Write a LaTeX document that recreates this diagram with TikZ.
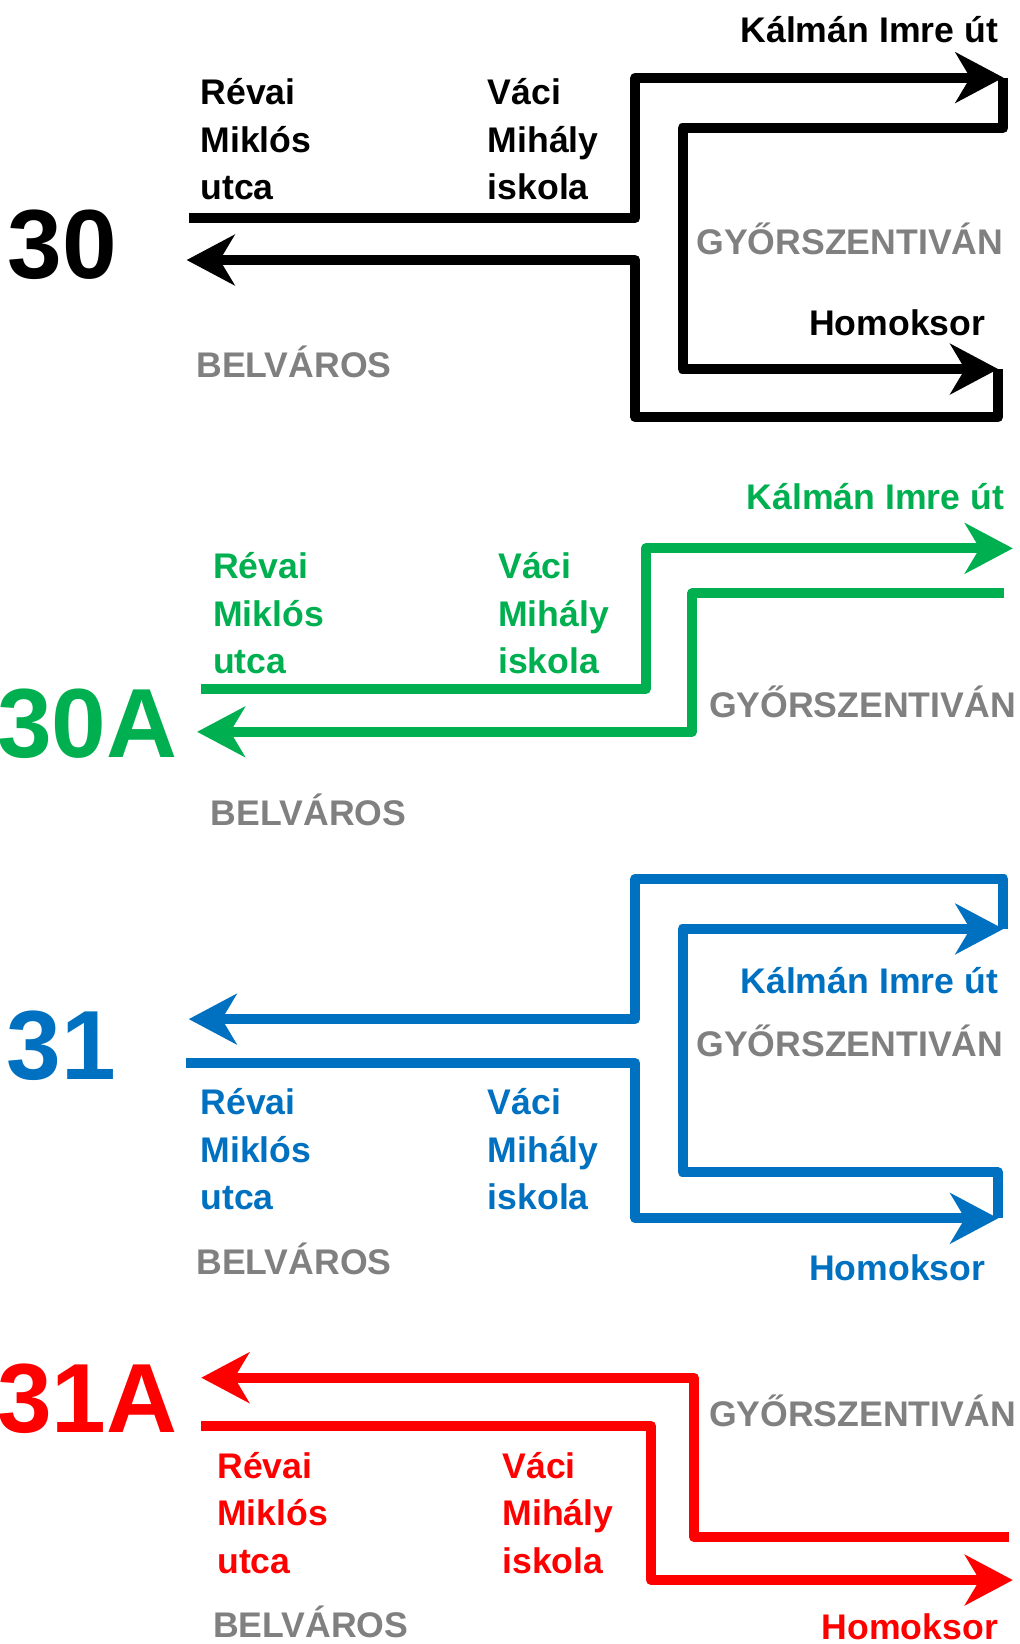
\documentclass[tikz,border=0pt]{standalone}
\usepackage{fontspec}
\setmainfont{Liberation Sans}
\usetikzlibrary{arrows.meta}
\usepackage{xcolor}
\definecolor{busgreen}{HTML}{00B050}
\definecolor{busblue}{HTML}{0070C0}
\definecolor{busred}{HTML}{FF0000}
\definecolor{destgray}{HTML}{808080}

\begin{document}
\begin{tikzpicture}[x=0.03cm, y=-0.03cm,
  line/.style={line width=8.1pt, line join=round},
  head/.style={-{Stealth[length=39pt, width=41pt, inset=12pt]}},
  stop/.style={inner sep=0, anchor=west, align=left, font=\fontsize{29}{38.8}\selectfont\bfseries},
  place/.style={inner sep=0, font=\fontsize{29}{38.8}\selectfont\bfseries},
  town/.style={place, anchor=base west, text=destgray},
  num/.style={inner sep=0, anchor=base west, font=\fontsize{80}{80}\selectfont\bfseries}]
\useasboundingbox (0,0) rectangle (972,1568);

% 30
\coordinate (s30) at (180,208);
\coordinate (p30a) at (606,208);
\coordinate (p30b) at (606,74);
\coordinate (k30) at (957,74);
\coordinate (p30c) at (957,122);
\coordinate (p30d) at (651,122);
\coordinate (p30e) at (651,352);
\coordinate (h30) at (952,352);
\coordinate (p30f) at (952,398);
\coordinate (p30g) at (606,398);
\coordinate (p30h) at (606,248);
\coordinate (b30) at (178,248);
\draw[line, head] (s30) -- (p30a) -- (p30b) -- (k30);
\draw[line, head] (k30) -- (p30c) -- (p30d) -- (p30e) -- (h30);
\draw[line, head] (h30) -- (p30f) -- (p30g) -- (p30h) -- (b30);
\node[num] (n30) at (7,266) {30};
\node[place, anchor=base east] (kal30) at (952,41) {Kálmán Imre út};
\node[stop] (rev30) at (191,133) {Révai\\Miklós\\utca};
\node[stop] (vac30) at (465,133) {Váci\\Mihály\\iskola};
\node[town] (gyo30) at (664,243) {GYŐRSZENTIVÁN};
\node[place, anchor=base east] (hom30) at (940,320) {Homoksor};
\node[town] (bel30) at (187,360) {BELVÁROS};

% 30A
\begin{scope}[busgreen]
\coordinate (s30a) at (192,657);
\coordinate (q30a) at (616,657);
\coordinate (q30b) at (616,523);
\coordinate (k30a) at (966,523);
\coordinate (g30a) at (958,566);
\coordinate (q30c) at (660,566);
\coordinate (q30d) at (660,698);
\coordinate (b30a) at (188,698);
\draw[line, head] (s30a) -- (q30a) -- (q30b) -- (k30a);
\draw[line, head] (g30a) -- (q30c) -- (q30d) -- (b30a);
\node[num, text=busgreen] (n30a) at (-3,722) {30A};
\node[place, anchor=base east, text=busgreen] (kal30a) at (958,486) {Kálmán Imre út};
\node[stop, text=busgreen] (rev30a) at (203,585) {Révai\\Miklós\\utca};
\node[stop, text=busgreen] (vac30a) at (475,585) {Váci\\Mihály\\iskola};
\end{scope}
\node[town] (gyo30a) at (676,684) {GYŐRSZENTIVÁN};
\node[town] (bel30a) at (201,787) {BELVÁROS};

% 31
\begin{scope}[busblue]
\coordinate (s31) at (177,1014);
\coordinate (u31a) at (606,1014);
\coordinate (u31b) at (606,1162);
\coordinate (h31) at (952,1162);
\coordinate (u31c) at (952,1118);
\coordinate (u31d) at (651,1118);
\coordinate (u31e) at (651,886);
\coordinate (k31) at (957,886);
\coordinate (u31f) at (957,838);
\coordinate (u31g) at (606,838);
\coordinate (u31h) at (606,972);
\coordinate (b31) at (180,972);
\draw[line, head] (s31) -- (u31a) -- (u31b) -- (h31);
\draw[line, head] (h31) -- (u31c) -- (u31d) -- (u31e) -- (k31);
\draw[line, head] (k31) -- (u31f) -- (u31g) -- (u31h) -- (b31);
\node[num, text=busblue] (n31) at (6,1030) {31};
\node[place, anchor=base east, text=busblue] (kal31) at (952,948) {Kálmán Imre út};
\node[stop, text=busblue] (rev31) at (191,1096) {Révai\\Miklós\\utca};
\node[stop, text=busblue] (vac31) at (465,1096) {Váci\\Mihály\\iskola};
\node[place, anchor=base east, text=busblue] (hom31) at (940,1221) {Homoksor};
\end{scope}
\node[town] (gyo31) at (664,1008) {GYŐRSZENTIVÁN};
\node[town] (bel31) at (187,1216) {BELVÁROS};

% 31A
\begin{scope}[busred]
\coordinate (s31a) at (192,1360);
\coordinate (v31a) at (621,1360);
\coordinate (v31b) at (621,1507);
\coordinate (h31a) at (966,1507);
\coordinate (g31a) at (962,1466);
\coordinate (v31c) at (662,1466);
\coordinate (v31d) at (662,1314);
\coordinate (b31a) at (192,1314);
\draw[line, head] (s31a) -- (v31a) -- (v31b) -- (h31a);
\draw[line, head] (g31a) -- (v31c) -- (v31d) -- (b31a);
\node[num, text=busred] (n31a) at (-3,1366) {31A};
\node[stop, text=busred] (rev31a) at (207,1443) {Révai\\Miklós\\utca};
\node[stop, text=busred] (vac31a) at (479,1443) {Váci\\Mihály\\iskola};
\node[place, anchor=base east, text=busred] (hom31a) at (952,1564) {Homoksor};
\end{scope}
\node[town] (gyo31a) at (676,1361) {GYŐRSZENTIVÁN};
\node[town] (bel31a) at (203,1562) {BELVÁROS};
\end{tikzpicture}
\end{document}
